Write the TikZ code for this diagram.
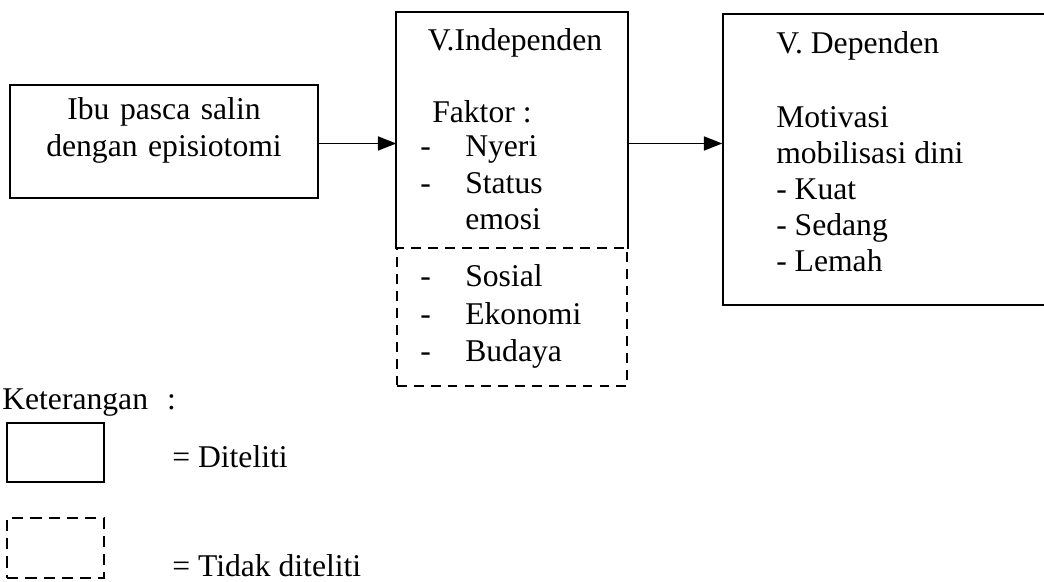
\documentclass[tikz,border=0pt]{standalone}
\usepackage{fontspec}
\setmainfont{Liberation Serif}
\usetikzlibrary{arrows.meta,calc,positioning,fit}

\begin{document}
\begin{tikzpicture}[x=0.025cm,y=-0.025cm,
  box/.style={draw,line width=1.1pt,inner sep=0pt},
  dbox/.style={box,dash pattern=on 7pt off 5pt},
  txt/.style={font=\fontsize{22.5}{26}\selectfont,inner sep=0pt,anchor=base west},
  arr/.style={-{Triangle[length=13pt,width=10pt]},line width=1.1pt}]
\useasboundingbox (0,0) rectangle (1044,582);

% Ibu pasca salin
\node[box,fit={(10,85) (318,198)},align=center,font=\fontsize{22.5}{26}\selectfont] (ibu)
  {Ibu pasca salin\\dengan episiotomi};

% V. Independen: solid part on top, dashed part below
\node[box,draw=none,fit={(397,13) (627,248)}] (indep) {};
\draw[box] (indep.south west) -- (indep.north west) -- (indep.north east) -- (indep.south east);
\node[dbox,fit={(397,248) (627,386)}] (indepx) {};

\node[txt,anchor=base] (indeptitle) at (515,51) {V.Independen};
\node[txt] (faktor) at (432,123) {Faktor :};
\node[txt] (d1) at (420,157) {-};  \node[txt] (nyeri) at (465,157) {Nyeri};
\node[txt] (d2) at (420,194) {-};  \node[txt] (status) at (465,194) {Status};
\node[txt] (emosi) at (465,230) {emosi};
\node[txt] (d3) at (420,287) {-};  \node[txt] (sosial) at (465,287) {Sosial};
\node[txt] (d4) at (420,325) {-};  \node[txt] (ekonomi) at (465,325) {Ekonomi};
\node[txt] (d5) at (420,362) {-};  \node[txt] (budaya) at (465,362) {Budaya};

% V. Dependen
\node[box,fit={(723,14) (1070,305)}] (dep) {};
\node[txt] (deptitle) at (776,54) {V. Dependen};
\node[txt] (motivasi) at (776,128) {Motivasi};
\node[txt] (mobilisasi) at (776,164) {mobilisasi dini};
\node[txt] (kuat) at (776,200) {- Kuat};
\node[txt] (sedang) at (776,236) {- Sedang};
\node[txt] (lemah) at (776,272) {- Lemah};

% Arrows
\draw[arr] ([yshift=-0.05cm]ibu.east) -- ([yshift=-0.05cm]ibu.east -| indep.west);
\draw[arr] ([yshift=-0.05cm]ibu.east -| indep.east) -- ([yshift=-0.05cm]ibu.east -| dep.west);

% Keterangan
\node[txt] (ket) at (2,410) {Keterangan\hspace{0.6em}:};
\node[box,fit={(7,423) (104,482)}] (keysolid) {};
\node[txt] (diteliti) at (172,468) {= Diteliti};
\node[box,dash pattern=on 8pt off 5pt,fit={(7,518) (104,578)}] (keydash) {};
\node[txt] (tidak) at (172,576) {= Tidak diteliti};
\end{tikzpicture}
\end{document}
